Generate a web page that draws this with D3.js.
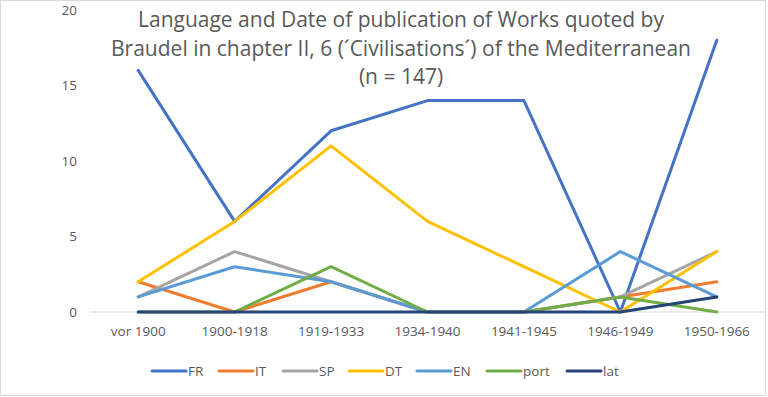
<!DOCTYPE html>
<html>
<head>
<meta charset="utf-8">
<script src="https://cdn.jsdelivr.net/npm/d3@7"></script>
<style>
  html, body { margin: 0; padding: 0; background: #fff; }
  svg { display: block; font-family: "Open Sans", "Noto Sans", sans-serif; }
</style>
</head>
<body>
<div id="chart"></div>
<script>
'use strict';

var periods = ['vor 1900', '1900-1918', '1919-1933', '1934-1940', '1941-1945', '1946-1949', '1950-1966'];
var seriesNames = ['FR', 'IT', 'SP', 'DT', 'EN', 'port', 'lat'];
var seriesColors = ['#4472C4', '#ED7D31', '#A5A5A5', '#FFC000', '#5B9BD5', '#70AD47', '#264478'];

var FR   = [16, 6, 12, 14, 14, 0, 18];
var IT   = [2, 0, 2, 0, 0, 1, 2];
var SP   = [1, 4, 2, 0, 0, 1, 4];
var DT   = [2, 6, 11, 6, 3, 0, 4];
var EN   = [1, 3, 2, 0, 0, 4, 1];
var port = [0, 0, 3, 0, 0, 1, 0];
var lat  = [0, 0, 0, 0, 0, 0, 1];

var yTicks = [0, 5, 10, 15, 20];
var titleLines = [
  'Language and Date of publication of Works quoted by',
  'Braudel in chapter II, 6 (\u00B4Civilisations\u00B4) of the Mediterranean',
  '(n = 147)'
];

var values = [FR, IT, SP, DT, EN, port, lat];

var W = 768, H = 397;
var svg = d3.select('#chart').append('svg').attr('width', W).attr('height', H);

// chart frame
svg.append('rect')
  .attr('x', 0.5).attr('y', 0.5)
  .attr('width', 765).attr('height', 395)
  .attr('fill', '#fff').attr('stroke', '#d9d9d9');

var x = d3.scaleBand().domain(periods).range([90, 765]);
var y = d3.scaleLinear().domain([0, 20]).range([312, 10]);

// zero line
svg.append('line')
  .attr('x1', 90).attr('x2', 765)
  .attr('y1', y(0)).attr('y2', y(0))
  .attr('stroke', '#d9d9d9').attr('stroke-width', 1);

// y axis labels
var yAxis = d3.axisLeft(y).tickValues(yTicks).tickSize(0).tickPadding(0);
var gy = svg.append('g').attr('transform', 'translate(77,0)').call(yAxis);
gy.select('.domain').remove();
gy.selectAll('text')
  .attr('fill', '#595959')
  .style('font-size', '13.5px')
  .style('font-family', '"Open Sans", "Noto Sans", sans-serif');

// x axis labels
var xAxis = d3.axisBottom(x).tickSize(0).tickPadding(0);
var gx = svg.append('g').attr('transform', 'translate(0,326)').call(xAxis);
gx.select('.domain').remove();
gx.selectAll('text')
  .attr('fill', '#595959')
  .style('font-size', '13.5px')
  .style('font-family', '"Open Sans", "Noto Sans", sans-serif');

// title
svg.append('text')
  .attr('text-anchor', 'middle')
  .attr('fill', '#595959')
  .style('font-size', '21px')
  .selectAll('tspan')
  .data(titleLines)
  .enter()
  .append('tspan')
  .attr('x', 401)
  .attr('y', function(d, i) { return 27 + i * 28.5; })
  .text(function(d) { return d; });

// lines
var line = d3.line()
  .x(function(d, i) { return x(periods[i]) + x.bandwidth() / 2; })
  .y(function(d) { return y(d); });

svg.append('g')
  .selectAll('path')
  .data(values)
  .enter()
  .append('path')
  .attr('d', line)
  .attr('fill', 'none')
  .attr('stroke', function(d, i) { return seriesColors[i]; })
  .attr('stroke-width', 3)
  .attr('stroke-linejoin', 'round')
  .attr('stroke-linecap', 'round');

// legend
var legendX = [152, 219, 283, 349, 417, 487, 567];
var legend = svg.append('g')
  .selectAll('g')
  .data(seriesNames)
  .enter()
  .append('g')
  .attr('transform', function(d, i) { return 'translate(' + legendX[i] + ',371)'; });

legend.append('line')
  .attr('x1', 0).attr('x2', 34)
  .attr('stroke', function(d, i) { return seriesColors[i]; })
  .attr('stroke-width', 3)
  .attr('stroke-linecap', 'round');

legend.append('text')
  .attr('x', 36)
  .attr('dy', '0.35em')
  .attr('fill', '#595959')
  .style('font-size', '13.5px')
  .text(function(d) { return d; });
</script>
</body>
</html>
